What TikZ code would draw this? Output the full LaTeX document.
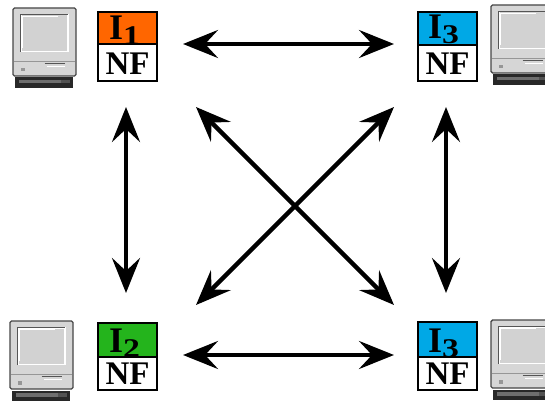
\documentclass[tikz,border=0pt]{standalone}
\usepackage{fontspec}
\setmainfont{Liberation Serif}
\usetikzlibrary{arrows.meta}
\definecolor{iorange}{RGB}{255,102,0}
\definecolor{igreen}{RGB}{36,180,28}
\definecolor{iblue}{RGB}{0,168,230}
\definecolor{macbody}{RGB}{214,214,214}
\definecolor{macedge}{RGB}{70,70,70}
\definecolor{macscreen}{RGB}{210,210,210}
\definecolor{macdark}{RGB}{85,85,85}
\definecolor{macline}{RGB}{150,150,150}
\definecolor{macbase}{RGB}{40,40,40}
\definecolor{macbasehi}{RGB}{110,110,110}
\tikzset{
  x=1pt, y=-1pt,
  mac/.pic={
    \draw[draw=macedge, fill=macbody, line width=1.4pt, rounded corners=1.5pt] (0,0) rectangle (63,68);
    \draw[macline, line width=0.8pt] (1,53.5) -- (62,53.5);
    \fill[white] (6.7,5.7) rectangle (55.7,44.4);
    \fill[macscreen] (8.5,7.5) rectangle (54.2,43);
    \draw[macdark, line width=1.3pt] (7.4,44) -- (7.4,6.4) -- (55.3,6.4);
    \draw[white, line width=1pt] (9.6,40) -- (9.6,8.6) -- (45,8.6);
    \draw[macdark, line width=1.4pt] (31.7,55.5) -- (51.7,55.5);
    \draw[white, line width=1pt] (34,58.3) -- (51.7,58.3);
    \fill[macline] (8,60) rectangle (11.5,63.5);
    \fill[macbase] (2.3,69.5) rectangle (60,80);
    \fill[macbasehi] (6,72) rectangle (48,75.5);
    \fill[macbasehi!60!macbase] (48,72) rectangle (57,75.5);
  },
  cell/.style={draw=black, line width=2pt, minimum width=59pt, inner sep=0pt, outer sep=0pt},
  itext/.style={anchor=base, inner sep=0pt, font=\fontsize{36}{36}\selectfont\bfseries},
  nftext/.style={anchor=base, inner sep=0pt, font=\fontsize{33}{33}\selectfont\bfseries},
  arr/.style={line width=4.3pt, {Stealth[length=35pt, width=28pt, inset=13pt]}-{Stealth[length=35pt, width=28pt, inset=13pt]}}
}
\newcommand{\subdig}[1]{\raisebox{-5pt}{\fontsize{27}{27}\selectfont\scalebox{1.25}[1]{#1}}}
\begin{document}
\begin{tikzpicture}
\useasboundingbox (0,0) rectangle (545,403);
% computers
\pic (mtl) at (13,8) {mac};
\pic (mtr) at (491,5) {mac};
\pic (mbl) at (10,321) {mac};
\pic (mbr) at (491,320) {mac};
% boxes
\node[cell, minimum height=32pt, fill=iorange, anchor=north west] (tli) at (98,12) {};
\node[cell, minimum height=37pt, fill=white, anchor=north] (tln) at (tli.south) {};
\node[cell, minimum height=33pt, fill=iblue, anchor=north west] (tri) at (418,12) {};
\node[cell, minimum height=36pt, fill=white, anchor=north] (trn) at (tri.south) {};
\node[cell, minimum height=34pt, fill=igreen, anchor=north west] (bli) at (98,323) {};
\node[cell, minimum height=33pt, fill=white, anchor=north] (bln) at (bli.south) {};
\node[cell, minimum height=35pt, fill=iblue, anchor=north west] (bri) at (418,322) {};
\node[cell, minimum height=33pt, fill=white, anchor=north] (brn) at (bri.south) {};
% labels
\node[itext] (tlt) at ([xshift=-3pt, yshift=4pt]tli.south) {I\subdig{1}};
\node[itext] (trt) at ([xshift=-4pt, yshift=6pt]tri.south) {I\subdig{3}};
\node[itext] (blt) at ([xshift=-3pt, yshift=5pt]bli.south) {I\subdig{2}};
\node[itext] (brt) at ([xshift=-4pt, yshift=5pt]bri.south) {I\subdig{3}};
\node[nftext] (tlf) at ([yshift=6pt]tln.south) {NF};
\node[nftext] (trf) at ([yshift=6pt]trn.south) {NF};
\node[nftext] (blf) at ([yshift=6pt]bln.south) {NF};
\node[nftext] (brf) at ([yshift=6pt]brn.south) {NF};
% arrow ends
\coordinate (h1a) at (183,44);  \coordinate (h1b) at (394,44);
\coordinate (h2a) at (183,355); \coordinate (h2b) at (394,355);
\coordinate (v1a) at (126,107); \coordinate (v1b) at (126,293);
\coordinate (v2a) at (446,107); \coordinate (v2b) at (446,293);
\coordinate (d1a) at (196,107); \coordinate (d1b) at (394,305);
\coordinate (d2a) at (394,107); \coordinate (d2b) at (196,305);
\draw[arr] (h1a) -- (h1b);
\draw[arr] (h2a) -- (h2b);
\draw[arr] (v1a) -- (v1b);
\draw[arr] (v2a) -- (v2b);
\draw[arr] (d1a) -- (d1b);
\draw[arr] (d2a) -- (d2b);
\end{tikzpicture}
\end{document}
